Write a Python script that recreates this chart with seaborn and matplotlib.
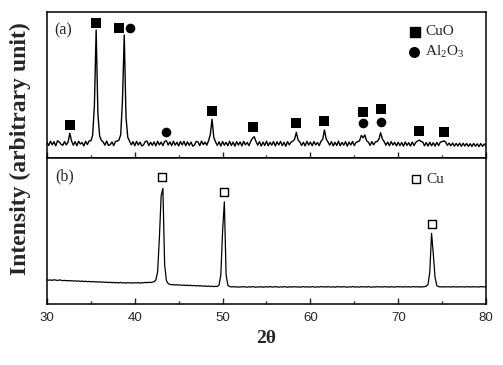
import numpy as np
import matplotlib
matplotlib.use("Agg")
import matplotlib.pyplot as plt
import seaborn as sns

# 2-theta sampling grid (0.2 deg steps) shared by both patterns
two_theta = np.round(np.arange(30.0, 80.01, 0.2), 1)

# (a) oxidised sample
int_a = [
    10.8, 8.6, 11.5, 9.0, 11.2, 8.3, 11.8, 11.0, 9.4, 8.7,
    11.3, 9.0, 10.9, 17.0, 11.6, 8.8, 11.2, 8.4, 11.5, 9.6,
    10.6, 8.3, 11.4, 9.2, 11.7, 11.8, 15.5, 36.0, 87.7, 30.0,
    15.0, 12.0, 11.0, 8.8, 11.6, 8.6, 9.2, 11.0, 8.5, 11.4,
    11.6, 12.3, 16.0, 40.0, 84.2, 28.0, 14.2, 11.6, 9.0, 11.2,
    8.4, 11.4, 8.9, 10.9, 8.2, 9.0, 11.3, 11.6, 8.5, 10.8,
    8.7, 11.0, 8.3, 11.5, 9.0, 10.9, 8.5, 11.4, 11.8, 8.9,
    11.0, 8.5, 11.5, 8.8, 10.8, 8.3, 11.3, 9.0, 11.4, 8.4,
    11.1, 8.6, 10.9, 8.1, 8.9, 11.4, 11.0, 8.5, 11.6, 9.2,
    10.9, 8.8, 11.8, 16.0, 26.5, 14.0, 11.0, 8.6, 11.1, 8.2,
    11.3, 8.8, 10.8, 8.4, 11.5, 8.6, 10.9, 8.1, 11.2, 8.9,
    11.0, 8.3, 11.4, 9.0, 10.7, 8.5, 11.4, 13.5, 14.6, 11.4,
    8.8, 11.2, 8.2, 10.9, 8.6, 11.5, 8.4, 10.7, 8.8, 11.3,
    8.3, 11.1, 8.9, 11.4, 8.5, 10.8, 8.1, 11.2, 9.0, 10.9,
    11.5, 12.8, 17.6, 12.3, 11.0, 8.6, 10.8, 8.3, 11.4, 8.8,
    10.9, 8.4, 11.3, 8.9, 10.7, 8.5, 11.4, 12.8, 19.2, 13.0,
    11.0, 8.8, 11.2, 8.3, 10.8, 8.6, 11.5, 8.4, 10.7, 8.8,
    11.2, 8.2, 10.9, 8.9, 11.3, 8.5, 10.7, 11.2, 11.8, 15.5,
    13.8, 15.8, 11.8, 10.9, 8.6, 11.2, 9.0, 11.0, 11.3, 12.8,
    17.3, 13.0, 11.2, 8.8, 10.9, 8.4, 11.2, 8.9, 10.7, 8.3,
    10.8, 8.5, 10.6, 8.1, 11.0, 8.6, 10.5, 8.2, 10.9, 8.5,
    10.7, 11.6, 12.3, 11.4, 10.9, 8.3, 10.6, 8.2, 10.8, 8.4,
    10.5, 8.1, 10.7, 8.5, 10.9, 11.2, 11.8, 10.9, 8.7, 10.2,
    8.4, 10.3, 8.1, 10.0, 8.3, 10.2, 8.0, 10.1, 8.2, 9.9,
    8.0, 9.8, 7.9, 10.0, 8.1, 9.7, 7.8, 9.9, 8.0, 9.6,
    8.2,
]

# (b) reduced sample
int_b = [
    16.6, 16.3, 16.5, 16.2, 16.6, 16.4, 16.1, 16.5, 16.3, 16.0,
    16.2, 15.9, 16.1, 15.8, 16.0, 15.7, 15.9, 15.6, 15.8, 15.5,
    15.7, 15.4, 15.6, 15.3, 15.5, 15.2, 15.4, 15.1, 15.3, 15.0,
    15.2, 14.9, 15.1, 14.8, 15.0, 14.7, 14.9, 14.6, 14.8, 14.5,
    14.7, 14.5, 14.8, 14.4, 14.6, 14.3, 14.7, 14.4, 14.6, 14.3,
    14.6, 14.4, 14.7, 14.3, 14.6, 14.5, 14.8, 14.6, 14.9, 14.7,
    15.0, 15.3, 16.5, 22.0, 45.0, 74.0, 79.2, 27.0, 16.0, 14.0,
    13.4, 13.2, 13.3, 13.0, 13.2, 12.9, 13.1, 12.8, 13.0, 12.7,
    12.9, 12.6, 12.8, 12.5, 12.7, 12.4, 12.6, 12.3, 12.5, 12.2,
    12.4, 12.1, 12.3, 12.0, 12.2, 11.9, 12.1, 12.0, 13.0, 20.0,
    50.0, 70.0, 20.0, 12.8, 12.0, 11.7, 11.9, 11.6, 11.8, 11.5,
    11.8, 11.6, 11.9, 11.7, 11.5, 11.8, 11.6, 11.9, 11.7, 11.5,
    11.8, 11.6, 11.9, 11.5, 11.7, 11.8, 11.6, 11.9, 11.7, 11.6,
    11.9, 11.7, 11.5, 11.8, 11.6, 11.9, 11.7, 11.5, 11.8, 11.6,
    11.7, 11.9, 11.6, 11.8, 11.5, 11.7, 11.9, 11.6, 11.8, 11.7,
    11.6, 11.9, 11.7, 11.5, 11.8, 11.6, 11.9, 11.7, 11.8, 11.6,
    11.9, 11.7, 11.6, 11.8, 11.5, 11.9, 11.7, 11.8, 11.6, 11.9,
    11.7, 11.5, 11.8, 11.6, 11.9, 11.7, 11.6, 11.8, 11.5, 11.9,
    11.7, 11.8, 11.6, 11.9, 11.7, 11.5, 11.8, 11.6, 11.9, 11.7,
    11.8, 11.6, 11.9, 11.7, 11.8, 11.5, 11.9, 11.7, 11.6, 11.8,
    11.9, 11.7, 11.8, 11.6, 11.9, 11.7, 11.8, 11.6, 11.9, 11.8,
    11.7, 11.9, 11.6, 11.8, 11.7, 11.9, 12.2, 13.5, 22.0, 48.4,
    34.0, 18.0, 12.6, 11.9, 11.7, 11.8, 11.6, 11.9, 11.7, 11.8,
    11.6, 11.9, 11.7, 11.8, 11.6, 11.9, 11.7, 11.8, 11.6, 11.9,
    11.7, 11.8, 11.6, 11.9, 11.7, 11.8, 11.6, 11.9, 11.7, 11.8,
    11.7,
]

# peak markers
cuo_x = [32.6, 35.6, 38.2, 48.8, 53.5, 58.4, 61.55, 66.0, 68.0, 72.4, 75.25]
cuo_y = [22.6, 92.3, 88.8, 32.2, 21.0, 23.8, 25.3, 31.3, 33.6, 18.7, 18.0]
al2o3_x = [39.5, 43.55, 66.0, 68.0]
al2o3_y = [88.8, 17.6, 23.8, 24.9]
cu_x = [43.06, 50.2, 73.9]
cu_y = [86.8, 76.9, 54.8]

sns.set_style("ticks")
plt.rcParams['font.family'] = ['Liberation Serif', 'DejaVu Serif']
plt.rcParams['mathtext.fontset'] = 'custom'
plt.rcParams['mathtext.rm'] = 'Liberation Serif'
plt.rcParams['mathtext.default'] = 'rm'

fig = plt.figure(figsize=(5.03, 3.65), dpi=100)
ax1 = fig.add_axes([0.0934, 0.5671, 0.8728, 0.4])
ax2 = fig.add_axes([0.0934, 0.1671, 0.8728, 0.4])

sns.lineplot(x=two_theta, y=int_a, ax=ax1, color='black', lw=1.0, estimator=None)
sns.lineplot(x=two_theta, y=int_b, ax=ax2, color='black', lw=0.9, estimator=None)

sns.scatterplot(x=cuo_x, y=cuo_y, ax=ax1, marker='s', s=45, color='black', linewidth=0)
sns.scatterplot(x=al2o3_x, y=al2o3_y, ax=ax1, marker='o', s=48, color='black', linewidth=0)
ax2.scatter(cu_x, cu_y, marker='s', s=40, facecolors='white', edgecolors='black', linewidths=1, zorder=3)

# legends drawn by hand
ax1.scatter([0.838], [0.865], marker='s', s=45, color='black', transform=ax1.transAxes, clip_on=False)
ax1.scatter([0.836], [0.728], marker='o', s=48, color='black', transform=ax1.transAxes, clip_on=False)
ax1.text(0.862, 0.865, 'CuO', transform=ax1.transAxes, fontsize=11, va='center', ha='left')
ax1.text(0.862, 0.728, 'Al$_{2}$O$_{3}$', transform=ax1.transAxes, fontsize=11, va='center', ha='left')
ax2.scatter([0.8405], [0.854], marker='s', s=40, facecolors='white', edgecolors='black',
            linewidths=1, transform=ax2.transAxes, clip_on=False)
ax2.text(0.865, 0.854, 'Cu', transform=ax2.transAxes, fontsize=11, va='center', ha='left')

ax1.text(0.016, 0.877, '(a)', transform=ax1.transAxes, fontsize=11.5, va='center', ha='left')
ax2.text(0.018, 0.872, '(b)', transform=ax2.transAxes, fontsize=11.5, va='center', ha='left')

for ax in (ax1, ax2):
    ax.set_xlim(30, 80)
    ax.set_ylim(0, 100)
    ax.set_yticks([])
    ax.set_xticks([30, 40, 50, 60, 70, 80])
    ax.set_xticks([35, 45, 55, 65, 75], minor=True)
    ax.tick_params(axis='x', which='major', direction='in', length=4, width=1, pad=6)
    ax.tick_params(axis='x', which='minor', direction='in', length=2.2, width=1)
    ax.set_xlabel('')
    ax.set_ylabel('')
    for sp in ax.spines.values():
        sp.set_visible(True)
        sp.set_linewidth(1.1)
        sp.set_color('black')

ax1.tick_params(axis='x', which='both', labelbottom=False)
for lab in ax2.get_xticklabels():
    lab.set_fontfamily('Liberation Sans')
    lab.set_fontsize(9.5)

ax2.set_xlabel('2θ', fontsize=14, fontweight='bold', labelpad=4)
fig.text(0.04, 0.593, 'Intensity (arbitrary unit)', rotation=90, fontsize=17,
         fontweight='bold', ha='center', va='center')

fig.savefig('out.png', dpi=100)
